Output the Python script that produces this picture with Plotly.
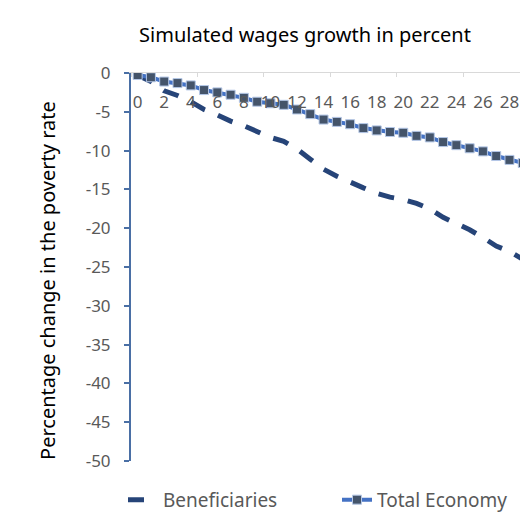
import plotly.graph_objects as go

x_vals = list(range(30))
x_ticks = list(range(0, 30, 2))
beneficiaries = [-0.3, -1.1, -2.3, -2.9, -3.7, -4.7, -5.4, -6.2, -6.8, -7.6,
                 -8.3, -8.8, -9.8, -11.1, -12.4, -13.3, -14.1, -14.8, -15.5, -16.0,
                 -16.3, -16.8, -17.5, -18.6, -19.4, -20.2, -21.2, -22.3, -23.0, -24.0]
total_economy = [-0.26, -0.55, -1.1, -1.3, -1.6, -2.2, -2.5, -2.8, -3.2, -3.7,
                 -3.9, -4.1, -4.7, -5.3, -6.0, -6.3, -6.6, -7.1, -7.4, -7.6,
                 -7.7, -8.1, -8.3, -8.9, -9.3, -9.7, -10.1, -10.7, -11.2, -11.6]
y_ticks = list(range(0, -55, -5))

# the page body has an 8px margin, so work in screen coords minus 8
OFF = 8
W, H = 528 - OFF, 519 - OFF
ML, MR, MT, MB = 131 - OFF, 0, 73 - OFF, 519 - 463
PW, PH = W - ML - MR, H - MT - MB

def px_x(p):
    return (p - OFF - ML) / PW

def px_y(p):
    return (H - MB - (p - OFF)) / PH

font_family = "Noto Sans"
gray = "#595959"

fig = go.Figure()
fig.add_trace(go.Scatter(
    x=x_vals, y=beneficiaries, name="Beneficiaries", mode="lines",
    line=dict(color="#264478", width=5, dash="16px,14px"), legend="legend",
))
fig.add_trace(go.Scatter(
    x=x_vals, y=total_economy, name="Total Economy", mode="lines+markers",
    line=dict(color="#4472C4", width=4),
    marker=dict(symbol="square", size=9, color="#44546A",
                line=dict(color="#B4C7E7", width=1)),
    legend="legend2",
))

xr = [-0.5, -0.5 + PW / 13.28]
legend_common = dict(orientation="h", xanchor="left", y=px_y(502), yanchor="middle",
                     font=dict(size=19, color=gray, family=font_family),
                     bgcolor="rgba(0,0,0,0)")
fig.update_layout(
    width=W, height=H,
    margin=dict(l=ML, r=MR, t=MT, b=MB),
    paper_bgcolor="white", plot_bgcolor="white",
    font=dict(family=font_family, color=gray),
    title=dict(text="Simulated wages growth in percent", x=(305 - OFF) / W, xref="container",
               xanchor="center", y=1 - (35 - OFF) / H, yanchor="middle", yref="container",
               font=dict(size=20, color="#000000", family=font_family)),
    xaxis=dict(
        range=xr, side="top", showticklabels=False, ticks="",
        tickmode="array", tickvals=x_ticks,
        showline=True, linecolor="#D9D9D9", linewidth=1,
        showgrid=False, zeroline=False,
        minor=dict(tickvals=[-0.5, 4.5, 9.5, 14.5, 19.5, 24.5, 29.5],
                   ticks="inside", ticklen=4, tickcolor="#D9D9D9", tickwidth=1, showgrid=False),
    ),
    xaxis2=dict(
        range=xr, overlaying="x", matches="x", anchor="free", position=1, side="bottom",
        tickmode="array", tickvals=x_ticks, ticktext=[str(v) for v in x_ticks],
        ticks="", ticklabelstandoff=17, showline=False, showgrid=False, zeroline=False,
        tickfont=dict(size=17, color=gray, family=font_family),
    ),
    yaxis=dict(
        range=[-50, 0], tickmode="array", tickvals=y_ticks,
        ticktext=[str(v) for v in y_ticks],
        ticks="outside", ticklen=5, tickcolor="#4A6FA5", tickwidth=2,
        showline=True, linecolor="#4A6FA5", linewidth=2,
        showgrid=False, zeroline=False, ticklabelstandoff=10,
        tickfont=dict(size=17, color=gray, family=font_family),
    ),
    legend=dict(x=px_x(123), **legend_common),
    legend2=dict(x=px_x(337), **legend_common),
    annotations=[dict(
        text="Percentage change in the poverty rate", textangle=-90,
        xref="paper", yref="paper", x=px_x(48), y=px_y(282),
        xanchor="center", yanchor="middle", showarrow=False,
        font=dict(size=20, color="#000000", family=font_family),
    )],
)
# an invisible trace on xaxis2 so the label axis is drawn
fig.add_trace(go.Scatter(x=[x_vals[0]], y=[total_economy[0]], xaxis="x2", mode="markers",
                         marker=dict(opacity=0), showlegend=False, hoverinfo="skip"))

fig.write_html("out.html")
